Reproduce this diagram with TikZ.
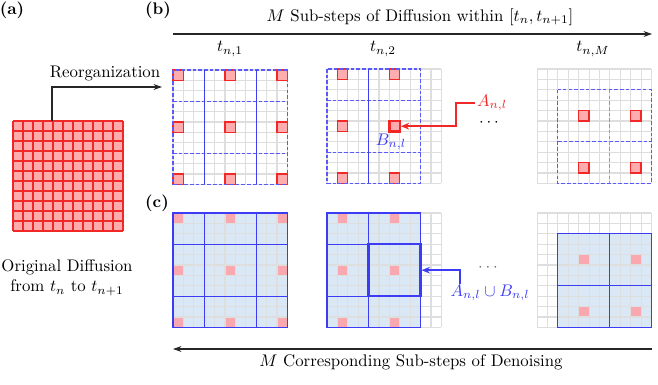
\documentclass[tikz,border=0pt]{standalone}
\usetikzlibrary{arrows.meta}
\definecolor{gridgray}{RGB}{222,222,222}
\definecolor{sqred}{RGB}{255,172,174}
\definecolor{edred}{RGB}{240,40,40}
\definecolor{bline}{RGB}{60,60,245}
\definecolor{bdashc}{RGB}{90,90,250}
\definecolor{bdashl}{RGB}{140,140,250}
\definecolor{bfill}{RGB}{218,232,246}
\definecolor{pinkc}{RGB}{250,168,176}
\definecolor{dotgray}{RGB}{110,110,110}
\newcommand\cel{10.4}
\newcommand\cellgrid{\foreach \i in {0,...,11}{\draw[gridln] ({\i*\cel},0) -- ({\i*\cel},{11*\cel}); \draw[gridln] (0,{\i*\cel}) -- ({11*\cel},{\i*\cel});}}
\newcommand\redsq[2]{\draw[redsqst] ({#1*\cel},{#2*\cel}) rectangle ++(\cel,\cel);}
\newcommand\palesq[2]{\fill[pinkc] ({#1*\cel},{#2*\cel}) rectangle ++(\cel,\cel);}
\newcommand\cellrect[5][]{\path[#1] ({#2*\cel},{#3*\cel}) rectangle ({#4*\cel},{#5*\cel});}
\newcommand\cellline[5][]{\draw[#1] ({#2*\cel},{#3*\cel}) -- ({#4*\cel},{#5*\cel});}
\begin{document}
\begin{tikzpicture}[x=0.595pt,y=-0.595pt,
  gridln/.style={draw=gridgray,line width=0.6pt},
  redsqst/.style={fill=sqred,draw=edred,line width=0.7pt},
  bdash/.style={draw=bdashc,line width=0.75pt,dash pattern=on 2.2pt off 1.2pt},
  bsolid/.style={draw=bline,line width=0.8pt},
  lab/.style={inner sep=1pt,font=\normalsize},
  arr/.style={-{Stealth[length=5pt,width=3.5pt]},line width=0.6pt,draw=black!85}]
\useasboundingbox (0,0) rectangle (658,385);
% panel labels
\node[lab] (pa) at (12,10) {\textbf{(a)}};
\node[lab] (pb) at (158,10) {\textbf{(b)}};
\node[lab] (pc) at (157,203) {\textbf{(c)}};
% top arrow
\coordinate (tl) at (173,34);
\coordinate (tr) at (652,34);
\draw[arr] (tl) -- (tr);
\node[lab] (ttl) at (420,17) {$M$ Sub-steps of Diffusion within $[t_n, t_{n+1}]$};
\node[lab] (t1) at (230,49) {$t_{n,1}$};
\node[lab] (t2) at (383,49) {$t_{n,2}$};
\node[lab] (tM) at (593,49) {$t_{n,M}$};
% bottom arrow
\coordinate (bl) at (173,349);
\coordinate (br) at (652,349);
\draw[arr] (br) -- (bl);
\node[lab] (btl) at (411,362) {$M$ Corresponding Sub-steps of Denoising};
% (a) original grid
\fill[sqred] (13,121) rectangle (123,231);
\foreach \i in {0,...,11}{
  \draw[edred,line width=0.6pt] ({13+\i*10},121) -- ({13+\i*10},231);
  \draw[edred,line width=0.6pt] (13,{121+\i*10}) -- (123,{121+\i*10});
}
\coordinate (ro) at (52,121);
\coordinate (re) at (162,87);
\draw[arr] (ro) |- (re);
\node[lab] (reorg) at (105,73) {Reorganization};
\node[lab] (orig1) at (67,267) {Original Diffusion};
\node[lab] (orig2) at (67,288) {from $t_n$ to $t_{n+1}$};
% ---------- (b) grid 1
\begin{scope}[shift={(173,70)}]
\cellgrid
\foreach \cc in {0,5,10}{\foreach \rr in {0,5,10}{\redsq{\cc}{\rr}}}
\cellrect[bdash]{0}{0}{11}{11}
\foreach \rr in {3,8}{\cellline[bdash]{0}{\rr}{11}{\rr}}
\foreach \cc in {3,8}{\cellline[bsolid]{\cc}{0}{\cc}{11}}
\end{scope}
% ---------- (b) grid 2
\begin{scope}[shift={(327,69)}]
\cellgrid
\foreach \cc in {1,6}{\foreach \rr in {0,5,10}{\redsq{\cc}{\rr}}}
\cellrect[bdash]{0}{0}{9}{11}
\foreach \rr in {3,8}{\cellline[bdash]{0}{\rr}{9}{\rr}}
\cellline[bsolid]{4}{0}{4}{11}
\draw[redsqst,line width=1.4pt] ({6*\cel},{5*\cel}) rectangle ++(\cel,\cel);
\coordinate (sqE) at ({7*\cel+1},{5.5*\cel});
\end{scope}
\node[lab,text=edred,anchor=west] (Anl) at (475,103) {$A_{n,l}$};
\draw[-{Stealth[length=5pt,width=4pt]},draw=edred,line width=1.3pt] (Anl.west) -- (456,103) |- (sqE);
\node[lab,text=bline] (Bnl) at (391,142) {$B_{n,l}$};
\node[lab] (dotsb) at (489,123) {$\cdots$};
% ---------- (b) grid 3
\begin{scope}[shift={(537,69)}]
\cellgrid
\foreach \cc in {4,9}{\foreach \rr in {4,9}{\redsq{\cc}{\rr}}}
\cellrect[bdash]{2}{2}{11}{11}
\cellline[bdash]{2}{7}{11}{7}
\cellline[bdash,draw=bdashl]{7}{2}{7}{11}
\end{scope}
% ---------- (c) grid 1
\begin{scope}[shift={(173,213)}]
\cellrect[fill=bfill]{0}{0}{11}{11}
\foreach \cc in {0,5,10}{\foreach \rr in {0,5,10}{\palesq{\cc}{\rr}}}
\cellgrid
\cellrect[bsolid]{0}{0}{11}{11}
\foreach \rr in {3,8}{\cellline[bsolid]{0}{\rr}{11}{\rr}}
\foreach \cc in {3,8}{\cellline[bsolid]{\cc}{0}{\cc}{11}}
\end{scope}
% ---------- (c) grid 2
\begin{scope}[shift={(327,213)}]
\cellrect[fill=bfill]{0}{0}{9}{11}
\foreach \cc in {1,6}{\foreach \rr in {0,5,10}{\palesq{\cc}{\rr}}}
\cellgrid
\cellrect[bsolid]{0}{0}{9}{11}
\foreach \rr in {3,8}{\cellline[bsolid]{0}{\rr}{9}{\rr}}
\cellline[bsolid]{4}{0}{4}{11}
\cellrect[draw=bline,line width=1.5pt]{4}{3}{9}{8}
\coordinate (blkE) at ({9*\cel+1},{5.5*\cel});
\end{scope}
\node[lab,text=bline] (AuB) at (490,293) {$A_{n,l}\cup B_{n,l}$};
\coordinate (auStart) at (460,284);
\draw[-{Stealth[length=5pt,width=4pt]},draw=bline,line width=1.3pt] (auStart) |- (blkE);
% ---------- (c) grid 3
\begin{scope}[shift={(537,213)}]
\cellrect[fill=bfill]{2}{2}{11}{11}
\foreach \cc in {4,9}{\foreach \rr in {4,9}{\palesq{\cc}{\rr}}}
\cellgrid
\cellrect[bsolid]{2}{2}{11}{11}
\cellline[bsolid]{2}{7}{11}{7}
\cellline[bsolid]{7}{2}{7}{11}
\end{scope}
\node[lab,text=dotgray] (dotsc) at (488,268) {$\cdots$};
\end{tikzpicture}
\end{document}
